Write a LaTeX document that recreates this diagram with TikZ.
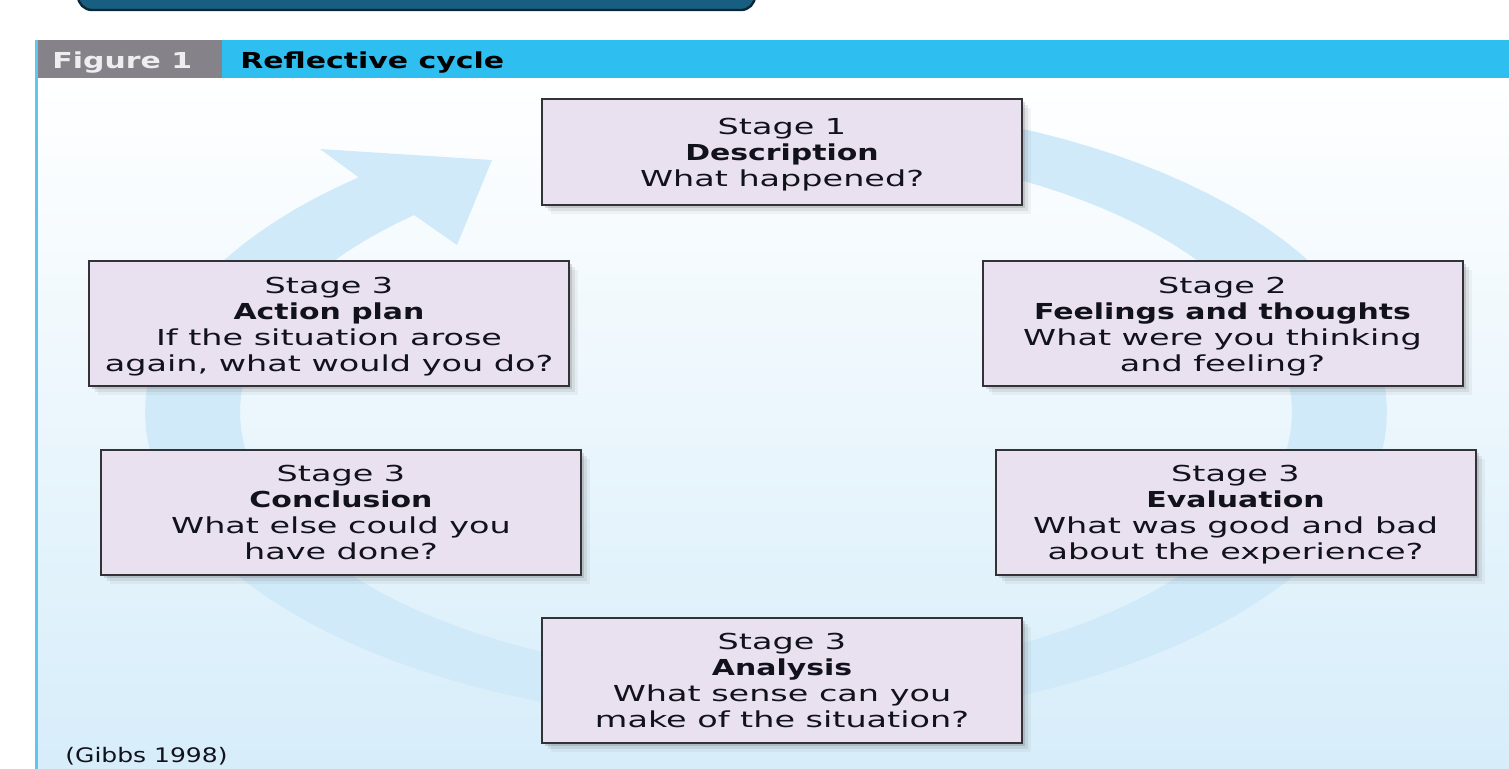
\documentclass[tikz,border=0pt]{standalone}
\usepackage{fontspec}
\setmainfont{DejaVu Sans}
\newfontfamily\regf{DejaVu Sans}[FakeStretch=1.52]
\newfontfamily\boldf{DejaVu Sans}[FakeStretch=1.36]
\newfontfamily\gibf{DejaVu Sans}[FakeStretch=1.25]
\newcommand\mytopstrut{\rule{0pt}{12.8pt}}
\usetikzlibrary{shadows}
\definecolor{boxfill}{RGB}{233,225,239}
\definecolor{boxline}{RGB}{50,50,55}
\definecolor{txt}{RGB}{18,18,28}
\definecolor{ringc}{RGB}{209,234,249}
\definecolor{panelbot}{RGB}{214,237,250}
\definecolor{headblue}{RGB}{46,190,240}
\definecolor{headgray}{RGB}{133,130,137}
\definecolor{figtxt}{RGB}{238,238,240}
\definecolor{topbar}{RGB}{24,94,128}
\definecolor{topbarline}{RGB}{12,40,56}
\definecolor{leftline}{RGB}{95,198,240}
\begin{document}
\begin{tikzpicture}[x=0.5pt,y=-0.5pt,
  stagebox/.style={draw=boxline, fill=boxfill, line width=1pt,
    minimum width=240pt, align=center, text=txt, inner sep=2pt,
    font=\regf\fontsize{11}{13}\selectfont,
    drop shadow={shadow xshift=1.5pt, shadow yshift=-1.5pt, opacity=0.18, fill=black!70},
    drop shadow={shadow xshift=3pt, shadow yshift=-3pt, opacity=0.10, fill=black!70},
    drop shadow={shadow xshift=4.5pt, shadow yshift=-4.5pt, opacity=0.06, fill=black!70}},
  shortbox/.style={stagebox, minimum height=53pt},
  tallbox/.style={stagebox, minimum height=62.5pt},
  headtext/.style={anchor=base west, inner sep=0pt, font=\boldf\bfseries\fontsize{11}{13}\selectfont}]
\useasboundingbox (0,0) rectangle (1509,768);
% top dark bar
\draw[rounded corners=7pt, fill=topbar, draw=topbarline, line width=1.2pt] (78,-40) rectangle (755,10);
% panel
\shade[top color=white, bottom color=panelbot] (35,78) rectangle (1515,775);
\fill[headblue] (35,40) rectangle (1515,78);
\fill[headgray] (37,40) rectangle (222,78);
\draw[leftline, line width=1.5pt] (36,40) -- (36,775);
\node[headtext, text=figtxt] (fig) at (52,68) {Figure 1};
\node[headtext, text=black] (title) at (240,68) {Reflective cycle};
% cycle ring with arrow head
\fill[ringc] plot[domain=100:-229, samples=120] ({766+621*cos(\x)},{412-311*sin(\x)})
  -- (320,149) -- (492,160) -- (457,245) -- (414,215)
  -- plot[domain=-228:100, samples=120] ({766+526*cos(\x)},{412-265*sin(\x)}) -- cycle;
% stages
\node[shortbox] (s1) at (782,152) {\mytopstrut Stage 1\\{\boldf\bfseries Description}\\What happened?\strut};
\node[tallbox] (ft) at (1222.5,323.5) {\mytopstrut Stage 2\\{\boldf\bfseries Feelings and thoughts}\\What were you thinking\\and feeling?\strut};
\node[tallbox] (ev) at (1235.5,512) {\mytopstrut Stage 3\\{\boldf\bfseries Evaluation}\\What was good and bad\\about the experience?\strut};
\node[tallbox] (an) at (782,680) {\mytopstrut Stage 3\\{\boldf\bfseries Analysis}\\What sense can you\\make of the situation?\strut};
\node[tallbox] (cn) at (341,512) {\mytopstrut Stage 3\\{\boldf\bfseries Conclusion}\\What else could you\\have done?\strut};
\node[tallbox] (ap) at (329,323.5) {\mytopstrut Stage 3\\{\boldf\bfseries Action plan}\\If the situation arose\\again, what would you do?\strut};
\node[anchor=base west, inner sep=0pt, text=txt, font=\gibf\fontsize{10}{12}\selectfont] (gibbs) at (65,762) {(Gibbs 1998)};
\end{tikzpicture}
\end{document}
